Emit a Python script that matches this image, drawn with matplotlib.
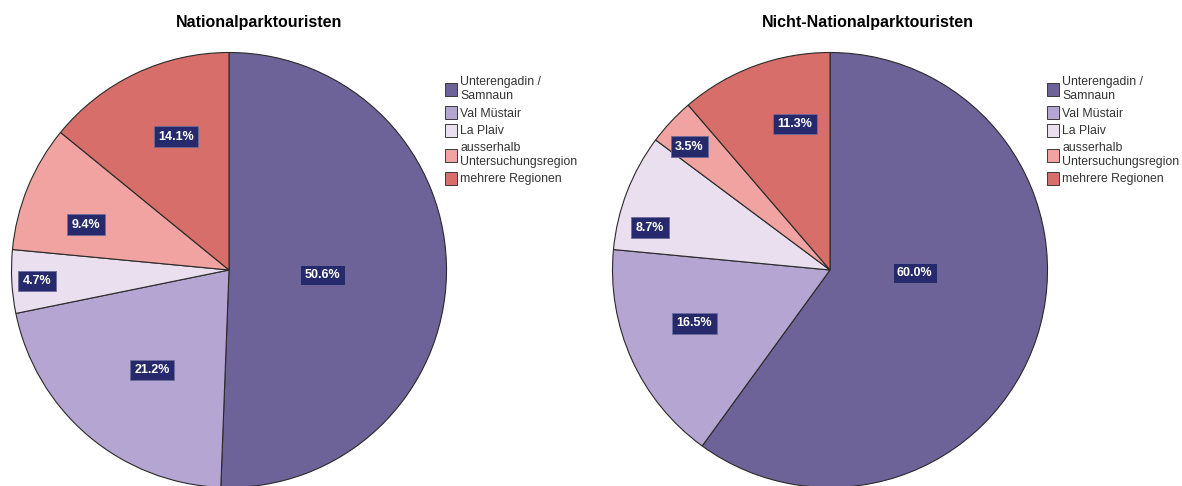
import numpy as np
import matplotlib
matplotlib.use("Agg")
import matplotlib.pyplot as plt
from matplotlib.patches import Patch

plt.rcParams['font.family'] = ['Liberation Sans', 'DejaVu Sans']

categories = ["Unterengadin /\nSamnaun", "Val Müstair", "La Plaiv",
              "ausserhalb\nUntersuchungsregion", "mehrere Regionen"]
titles = ["Nationalparktouristen", "Nicht-Nationalparktouristen"]
values_np = [50.6, 21.2, 4.7, 9.4, 14.1]
values_nnp = [60.0, 16.5, 8.7, 3.5, 11.3]

colors = ["#6E6399", "#B4A5D2", "#EADFEF", "#F0A3A0", "#D86E6A"]

# label placement (angle deg, radius fraction) -- layout only
label_layout = [
    [(-3, 0.43), (-127.6, 0.58), (-176.7, 0.885), (162.5, 0.69), (111.7, 0.66)],
    [(-2, 0.39), (-158.6, 0.67), (166.8, 0.85), (138.7, 0.86), (103.5, 0.69)],
]

W, H = 1182, 486
fig = plt.figure(figsize=(W / 100, H / 100), dpi=100)

centers = [(229, 270), (830, 270)]
R = 217.5
title_x = [259, 868]
legend_x = [445, 1047]

for i, vals in enumerate([values_np, values_nnp]):
    cx, cy = centers[i]
    ax = fig.add_axes([(cx - R) / W, (H - cy - R) / H, 2 * R / W, 2 * R / H])
    wedges, _ = ax.pie(vals, colors=colors, startangle=90, counterclock=False,
                       radius=1.0,
                       wedgeprops=dict(edgecolor="#2a2a2a", linewidth=0.8))
    for w in wedges:
        w.set_clip_on(False)
    ax.set_xlim(-1, 1)
    ax.set_ylim(-1, 1)
    ax.set_aspect('equal')
    ax.axis('off')
    for v, (ang, rf) in zip(vals, label_layout[i]):
        a = np.deg2rad(ang)
        ax.text(rf * np.cos(a), rf * np.sin(a), f"{v:.1f}%", ha='center', va='center',
                color='white', fontsize=9, fontweight='bold',
                bbox=dict(boxstyle='square,pad=0.35', facecolor='#262A6C',
                          edgecolor='#6d6d9a', linewidth=0.6))
    fig.text(title_x[i] / W, 1 - 22 / H, titles[i], ha='center', va='center',
             fontsize=11.5, fontweight='bold', color='black')
    handles = [Patch(facecolor=c, edgecolor='#3a3a3a', linewidth=0.7) for c in colors]
    fig.legend(handles, categories, loc='upper left',
               bbox_to_anchor=(legend_x[i] / W, 1 - 76 / H),
               frameon=False, fontsize=8.8, labelspacing=0.35,
               handlelength=0.95, handleheight=1.25, handletextpad=0.3,
               borderpad=0, borderaxespad=0, labelcolor='#333333')

fig.savefig("out.png", dpi=100, facecolor='white')
